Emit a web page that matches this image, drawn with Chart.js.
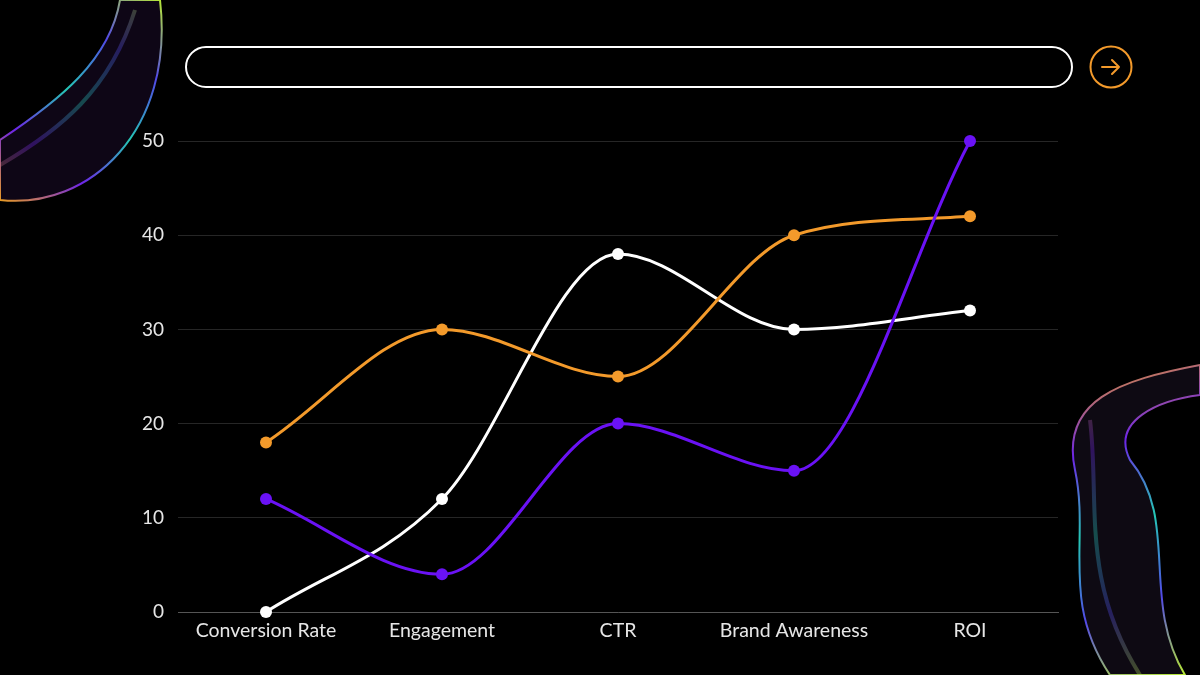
<!DOCTYPE html>
<html>
<head>
<meta charset="utf-8">
<script src="https://cdn.jsdelivr.net/npm/chart.js@4.4.1/dist/chart.umd.min.js"></script>
<style>
    html, body { margin: 0; padding: 0; background: #000; }
    #wrap { position: relative; width: 1200px; height: 675px; overflow: hidden; }
    #deco { position: absolute; left: 0; top: 0; }
    #chart { position: absolute; left: 0; top: 0; }
    .searchbox {
        position: absolute; left: 185px; top: 46px; width: 884px; height: 38px;
        border: 2.5px solid #fff; border-radius: 22px;
    }
    .gobtn { position: absolute; left: 1089px; top: 45px; }
</style>
</head>
<body>
<div id="wrap">
    <canvas id="deco" width="1200" height="675"></canvas>
    <canvas id="chart" width="1200" height="675"></canvas>
    <div class="searchbox"></div>
    <svg class="gobtn" width="44" height="44" viewBox="0 0 44 44">
        <circle cx="22" cy="22" r="20.5" fill="none" stroke="#f39a2b" stroke-width="2"/>
        <path d="M13 22 H30 M23 15 L30 22 L23 29" fill="none" stroke="#f39a2b" stroke-width="2" stroke-linecap="round" stroke-linejoin="round"/>
    </svg>
</div>
<script>
// Marketing metrics line chart

const categories = ['Conversion Rate', 'Engagement', 'CTR', 'Brand Awareness', 'ROI'];
const orangeValues = [18, 30, 25, 40, 42];
const whiteValues = [0, 12, 38, 30, 32];
const purpleValues = [12, 4, 20, 15, 50];
const yTicks = [0, 10, 20, 30, 40, 50];

const ORANGE = '#f39a2b';
const WHITE = '#ffffff';
const PURPLE = '#6a12f5';

// rough iridescent bubbles in the corners
function drawDeco() {
    const c = document.getElementById('deco').getContext('2d');

    function rainbow(x0, y0, x1, y1) {
        const g = c.createLinearGradient(x0, y0, x1, y1);
        g.addColorStop(0, 'rgba(255,170,40,0.9)');
        g.addColorStop(0.25, 'rgba(120,40,255,0.9)');
        g.addColorStop(0.5, 'rgba(40,220,200,0.9)');
        g.addColorStop(0.75, 'rgba(90,80,255,0.9)');
        g.addColorStop(1, 'rgba(200,255,60,0.9)');
        return g;
    }

    // top left
    c.save();
    c.beginPath();
    c.moveTo(0, 200);
    c.bezierCurveTo(90, 210, 175, 130, 160, 0);
    c.lineTo(120, 0);
    c.bezierCurveTo(110, 60, 60, 100, 0, 140);
    c.closePath();
    c.fillStyle = 'rgba(18,8,28,0.8)';
    c.fill();
    c.lineWidth = 2;
    c.strokeStyle = rainbow(0, 200, 160, 0);
    c.stroke();
    c.lineWidth = 4;
    c.globalAlpha = 0.35;
    c.beginPath();
    c.moveTo(0, 165);
    c.bezierCurveTo(60, 130, 110, 90, 135, 10);
    c.stroke();
    c.restore();

    // bottom right
    c.save();
    c.beginPath();
    c.moveTo(1200, 365);
    c.bezierCurveTo(1120, 380, 1060, 400, 1075, 470);
    c.bezierCurveTo(1090, 540, 1060, 600, 1110, 675);
    c.lineTo(1185, 675);
    c.bezierCurveTo(1140, 600, 1180, 520, 1130, 460);
    c.bezierCurveTo(1110, 420, 1160, 400, 1200, 395);
    c.closePath();
    c.fillStyle = 'rgba(18,12,24,0.8)';
    c.fill();
    c.lineWidth = 2;
    c.strokeStyle = rainbow(1080, 370, 1180, 675);
    c.stroke();
    c.lineWidth = 4;
    c.globalAlpha = 0.35;
    c.beginPath();
    c.moveTo(1090, 420);
    c.bezierCurveTo(1100, 500, 1080, 580, 1140, 675);
    c.stroke();
    c.restore();
}

drawDeco();

function makeSeries(data, color) {
    return {
        data: data,
        borderColor: color,
        backgroundColor: color,
        pointBackgroundColor: color,
        pointBorderWidth: 0,
        pointRadius: 6,
        borderWidth: 3,
        cubicInterpolationMode: 'monotone',
        fill: false,
        clip: false
    };
}

const ctx = document.getElementById('chart').getContext('2d');

new Chart(ctx, {
    type: 'line',
    data: {
        labels: categories,
        datasets: [
            makeSeries(purpleValues, PURPLE),
            makeSeries(orangeValues, ORANGE),
            makeSeries(whiteValues, WHITE)
        ]
    },
    options: {
        responsive: false,
        animation: false,
        layout: {
            padding: { left: 0, right: 142, top: 141, bottom: 23 }
        },
        plugins: {
            legend: { display: false },
            tooltip: { enabled: false }
        },
        scales: {
            x: {
                offset: true,
                grid: { display: false, drawTicks: false },
                border: { color: '#555555', width: 1 },
                ticks: {
                    color: '#e6e6e6',
                    font: { family: 'Lato', size: 19.5 },
                    padding: 7,
                    maxRotation: 0
                },
                afterFit: function(scale) { scale.height = 40; }
            },
            y: {
                min: 0,
                max: 50,
                afterBuildTicks: function(scale) {
                    scale.ticks = yTicks.map(v => ({ value: v }));
                },
                grid: { color: '#262626', lineWidth: 1, drawTicks: false },
                border: { display: false },
                ticks: {
                    color: '#e6e6e6',
                    font: { family: 'Lato', size: 19 },
                    padding: 14
                },
                afterFit: function(scale) { scale.width = 178; }
            }
        }
    }
});
</script>
</body>
</html>
